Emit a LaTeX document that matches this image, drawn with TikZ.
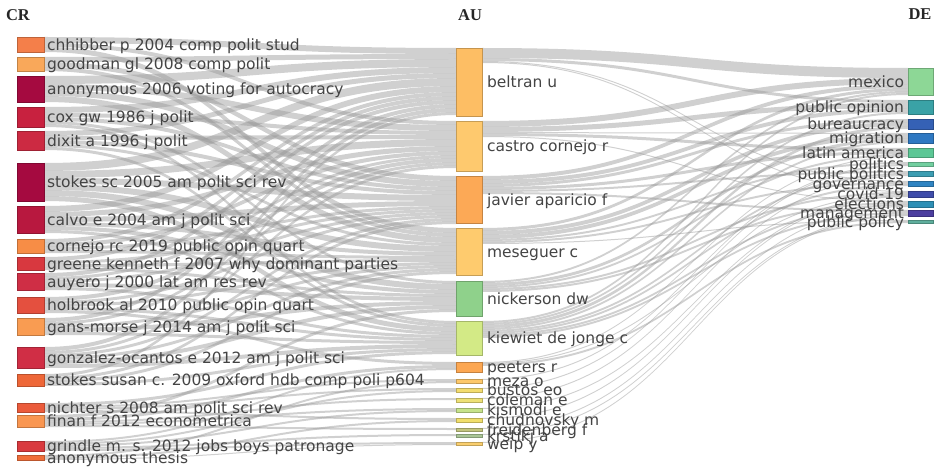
\documentclass[tikz,border=0pt]{standalone}
\usepackage{fontspec}
\newfontfamily\lblfont{DejaVu Sans}
\newfontfamily\hdrfont{Liberation Serif}
\usetikzlibrary{backgrounds}
% CR colours
\definecolor{k1}{HTML}{F47F4A}\definecolor{k2}{HTML}{F9A85A}\definecolor{k3}{HTML}{A50A40}
\definecolor{k4}{HTML}{C8213F}\definecolor{k5}{HTML}{CC2A42}\definecolor{k6}{HTML}{A50A40}
\definecolor{k7}{HTML}{B8183F}\definecolor{k8}{HTML}{F78D46}\definecolor{k9}{HTML}{D8383F}
\definecolor{k10}{HTML}{CF2E45}\definecolor{k11}{HTML}{E4503F}\definecolor{k12}{HTML}{F99C52}
\definecolor{k13}{HTML}{D02E45}\definecolor{k14}{HTML}{EE6738}\definecolor{k15}{HTML}{EB5B3B}
\definecolor{k16}{HTML}{F99651}\definecolor{k17}{HTML}{D93A3F}\definecolor{k18}{HTML}{F06E3A}
% AU colours
\definecolor{u1}{HTML}{FDBE64}\definecolor{u2}{HTML}{FEC96E}\definecolor{u3}{HTML}{FCA956}
\definecolor{u4}{HTML}{FECB6E}\definecolor{u5}{HTML}{8FD18B}\definecolor{u6}{HTML}{D3EA86}
\definecolor{u7}{HTML}{FCA752}\definecolor{u8}{HTML}{FDC86A}\definecolor{u9}{HTML}{F3DC6F}
\definecolor{u10}{HTML}{EDE076}\definecolor{u11}{HTML}{C6E28A}\definecolor{u12}{HTML}{F0DE6C}
\definecolor{u13}{HTML}{C2C47E}\definecolor{u14}{HTML}{A9C596}\definecolor{u15}{HTML}{F9CE6E}
% DE colours
\definecolor{e1}{HTML}{8DD796}\definecolor{e2}{HTML}{3AA2A6}\definecolor{e3}{HTML}{3561B5}
\definecolor{e4}{HTML}{2E78C2}\definecolor{e5}{HTML}{5CC795}\definecolor{e6}{HTML}{72CFA0}
\definecolor{e7}{HTML}{3C9DB2}\definecolor{e8}{HTML}{2F84C2}\definecolor{e9}{HTML}{3F4DAA}
\definecolor{e10}{HTML}{2E8FB5}\definecolor{e11}{HTML}{4C3E9F}\definecolor{e12}{HTML}{5FAE9D}
\definecolor{lbltext}{HTML}{444444}
\definecolor{ribgray}{HTML}{969696}

\tikzset{
  boxnode/.style={rectangle, draw=#1!78!black, fill=#1, line width=0.5pt,
    inner sep=0pt, outer sep=0pt, anchor=north west},
  lbl/.style={font=\lblfont\fontsize{15.5}{18}\selectfont, text=lbltext,
    inner sep=0pt, outer sep=0pt, text height=11.4pt, text depth=0pt},
  hdr/.style={font=\hdrfont\bfseries\fontsize{16.5}{19}\selectfont, text=black!85, inner sep=0pt},
  ribbonfill/.style={fill=ribgray, fill opacity=0.45}
}

\newcommand\rbInit[1]{\ifcsname rboff@#1\endcsname\else\expandafter\gdef\csname rboff@#1\endcsname{0}\fi}
\newcommand\rib[4]{%
  \rbInit{#1o}\rbInit{#2i}%
  \edef\rbS{\csname rboff@#1o\endcsname}%
  \edef\rbT{\csname rboff@#2i\endcsname}%
  \fill[ribbonfill] ([yshift={-(\rbS)*1pt}]#1.north east)
     .. controls +(#4,0) and +(-#4,0) .. ([yshift={-(\rbT)*1pt}]#2.north west)
     -- ([yshift={-(\rbT+#3)*1pt}]#2.north west)
     .. controls +(-#4,0) and +(#4,0) .. ([yshift={-(\rbS+#3)*1pt}]#1.north east) -- cycle;
  \pgfmathsetmacro\rbX{\rbS+#3}\expandafter\xdef\csname rboff@#1o\endcsname{\rbX}%
  \pgfmathsetmacro\rbX{\rbT+#3}\expandafter\xdef\csname rboff@#2i\endcsname{\rbX}%
}
\newcommand\crnode[5]{%
  \node[boxnode=#4, minimum width=27pt, minimum height=#3pt] (#1) at (17,#2) {};
  \node[lbl, anchor=west] (#1t) at ([xshift=3pt]#1.east) {#5};}
\newcommand\aunode[5]{%
  \node[boxnode=#4, minimum width=26pt, minimum height=#3pt] (#1) at (456,#2) {};
  \node[lbl, anchor=west] (#1t) at ([xshift=5pt]#1.east) {#5};}
\newcommand\denode[5]{%
  \node[boxnode=#4, minimum width=25pt, minimum height=#3pt] (#1) at (908,#2) {};
  \node[lbl, anchor=east] (#1t) at ([xshift=-4pt]#1.west) {#5};}

\begin{document}
\begin{tikzpicture}[x=1pt,y=-1pt]
\useasboundingbox (0,0) rectangle (935,468);

\node[hdr] (hcr) at (18,15) {CR};
\node[hdr] (hau) at (470,15) {AU};
\node[hdr] (hde) at (920,14) {DE};

\crnode{c1}{37}{15}{k1}{chhibber p 2004 comp polit stud}
\crnode{c2}{57}{14}{k2}{goodman gl 2008 comp polit}
\crnode{c3}{76}{26}{k3}{anonymous 2006 voting for autocracy}
\crnode{c4}{107}{20}{k4}{cox gw 1986 j polit}
\crnode{c5}{131}{19}{k5}{dixit a 1996 j polit}
\crnode{c6}{163}{38}{k6}{stokes sc 2005 am polit sci rev}
\crnode{c7}{206}{27}{k7}{calvo e 2004 am j polit sci}
\crnode{c8}{239}{14}{k8}{cornejo rc 2019 public opin quart}
\crnode{c9}{257}{13}{k9}{greene kenneth f 2007 why dominant parties}
\crnode{c10}{273}{17}{k10}{auyero j 2000 lat am res rev}
\crnode{c11}{297}{16}{k11}{holbrook al 2010 public opin quart}
\crnode{c12}{318}{17}{k12}{gans-morse j 2014 am j polit sci}
\crnode{c13}{347}{21}{k13}{gonzalez-ocantos e 2012 am j polit sci}
\crnode{c14}{374}{12}{k14}{stokes susan c. 2009 oxford hdb comp poli p604}
\crnode{c15}{403}{9}{k15}{nichter s 2008 am polit sci rev}
\crnode{c16}{415}{12}{k16}{finan f 2012 econometrica}
\crnode{c17}{441}{10}{k17}{grindle m. s. 2012 jobs boys patronage}
\crnode{c18}{455}{5}{k18}{anonymous thesis}

\aunode{a1}{48}{68}{u1}{beltran u}
\aunode{a2}{121}{50}{u2}{castro cornejo r}
\aunode{a3}{176}{47}{u3}{javier aparicio f}
\aunode{a4}{228}{47}{u4}{meseguer c}
\aunode{a5}{281}{35}{u5}{nickerson dw}
\aunode{a6}{321}{34}{u6}{kiewiet de jonge c}
\aunode{a7}{362}{10}{u7}{peeters r}
\aunode{a8}{379}{4}{u8}{meza o}
\aunode{a9}{388}{4}{u9}{bustos eo}
\aunode{a10}{398}{4}{u10}{coleman e}
\aunode{a11}{408}{4}{u11}{kismodi e}
\aunode{a12}{418}{4}{u12}{chudnovsky m}
\aunode{a13}{428}{3}{u13}{freidenberg f}
\aunode{a14}{434}{3}{u14}{krstikj a}
\aunode{a15}{442}{3}{u15}{weip y}

\denode{d1}{68}{27}{e1}{mexico}
\denode{d2}{100}{14}{e2}{public opinion}
\denode{d3}{119}{10}{e3}{bureaucracy}
\denode{d4}{133}{10}{e4}{migration}
\denode{d5}{148}{9}{e5}{latin america}
\denode{d6}{162}{4}{e6}{politics}
\denode{d7}{171}{5}{e7}{public politics}
\denode{d8}{181}{5}{e8}{governance}
\denode{d9}{191}{6}{e9}{covid-19}
\denode{d10}{201}{6}{e10}{elections}
\denode{d11}{210}{6}{e11}{management}
\denode{d12}{220}{3}{e12}{public policy}

\begin{scope}[on background layer]
\foreach \fa/\fb/\fw in {
 c1/a1/6, c1/a2/4, c1/a4/5,
 c2/a1/5, c2/a3/5, c2/a4/4,
 c3/a1/8, c3/a2/6, c3/a3/6, c3/a4/6,
 c4/a1/6, c4/a2/4, c4/a3/4, c4/a5/3, c4/a6/3,
 c5/a1/5, c5/a2/4, c5/a3/4, c5/a4/3, c5/a6/3,
 c6/a1/8, c6/a2/7, c6/a3/6, c6/a4/6, c6/a5/6, c6/a6/5,
 c7/a1/6, c7/a2/5, c7/a3/5, c7/a4/4, c7/a5/4, c7/a6/3,
 c8/a1/4, c8/a2/4, c8/a3/3, c8/a4/3,
 c9/a1/4, c9/a3/3, c9/a4/3, c9/a5/3,
 c10/a1/4, c10/a2/3, c10/a3/3, c10/a5/4, c10/a6/3,
 c11/a2/4, c11/a3/3, c11/a4/3, c11/a6/3, c11/a7/3,
 c12/a1/4, c12/a2/3, c12/a4/3, c12/a5/4, c12/a6/3,
 c13/a1/4, c13/a2/3, c13/a3/3, c13/a4/3, c13/a5/4, c13/a6/4,
 c14/a1/3, c14/a3/3, c14/a4/3, c14/a6/3,
 c15/a6/3, c15/a8/2, c15/a9/2, c15/a12/2,
 c16/a5/3, c16/a7/3, c16/a10/2, c16/a11/2, c16/a13/2,
 c17/a7/2, c17/a9/2, c17/a11/2, c17/a14/2, c17/a15/2,
 c18/a8/2, c18/a12/2, c18/a15/1}
 {\rib{\fa}{\fb}{\fw}{206}}
\foreach \fa/\fb/\fw in {
 a1/d1/10, a1/d2/3, a1/d8/1, a1/d9/1,
 a2/d1/6, a2/d2/5, a2/d4/1, a2/d5/3, a2/d10/1,
 a3/d1/4, a3/d2/4, a3/d3/3, a3/d5/3, a3/d7/2, a3/d11/2,
 a4/d1/3, a4/d3/4, a4/d4/4, a4/d6/2, a4/d8/2, a4/d12/1,
 a5/d1/2, a5/d4/3, a5/d5/2, a5/d9/2, a5/d10/2,
 a6/d1/2, a6/d2/2, a6/d3/3, a6/d4/2, a6/d7/2, a6/d8/2, a6/d10/2, a6/d11/2,
 a7/d5/1, a7/d9/1, a7/d12/2,
 a8/d6/1, a9/d6/1, a10/d7/1, a11/d9/1, a12/d9/1, a13/d10/1, a14/d11/1, a15/d11/1}
 {\rib{\fa}{\fb}{\fw}{213}}
\end{scope}
\end{tikzpicture}
\end{document}
